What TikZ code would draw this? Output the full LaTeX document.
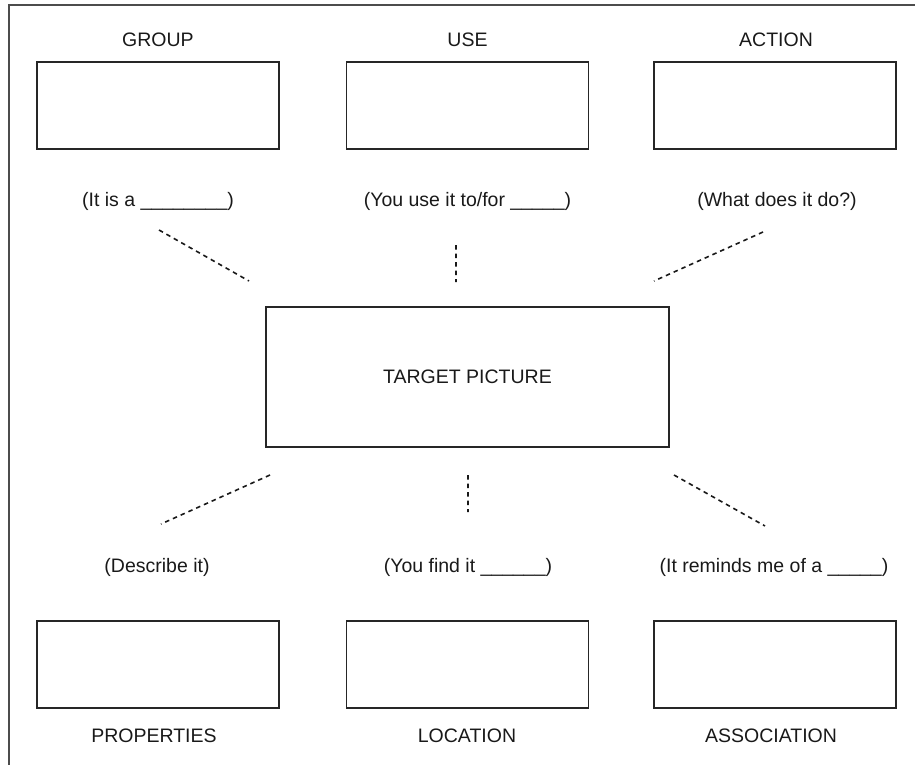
\documentclass[tikz,border=0pt]{standalone}
\usepackage{fontspec}
\setmainfont{Liberation Sans}
\usetikzlibrary{positioning}
\tikzstyle{card}=[draw=black!85,line width=1.3pt,minimum width=242pt,minimum height=87pt,inner sep=0pt]
\tikzstyle{head}=[anchor=base,inner sep=0pt,font=\fontsize{19.5}{23}\selectfont,text=black!90]
\tikzstyle{link}=[draw=black!90,line width=1.6pt,dash pattern=on 4.5pt off 4pt]

\begin{document}
\begin{tikzpicture}[x=1pt,y=-1pt]
	\useasboundingbox (0,0) rectangle (915,765);
	% frame
	\draw[black!70,line width=1.5pt] (9,765) -- (9,5) -- (915,5);

	% top row
	\node [card] (group)  at (158,105.5)   {};
	\node [card] (use)    at (467.5,105.5) {};
	\node [card] (action) at (775,105.5)   {};
	\node [head] (groupname)  at (158,47)   {GROUP};
	\node [head] (usename)    at (467.5,47) {USE};
	\node [head] (actionname) at (776,47)   {ACTION};
	\node [head] (groupq)  at (158,206)   {(It is a \_\_\_\_\_\_\_\_)};
	\node [head] (useq)    at (467.5,206) {(You use it to/for \_\_\_\_\_)};
	\node [head] (actionq) at (777,206)   {(What does it do?)};

	% centre
	\node [card,minimum width=403pt,minimum height=140pt,font=\fontsize{19.5}{23}\selectfont,text=black!90]
		(target) at (467.5,377) {TARGET PICTURE};

	% bottom row
	\node [card] (properties)  at (158,664.5)   {};
	\node [card] (location)    at (467.5,664.5) {};
	\node [card] (association) at (775,664.5)   {};
	\node [head] (propq)  at (157,572)   {(Describe it)};
	\node [head] (locq)   at (468,572)   {(You find it \_\_\_\_\_\_)};
	\node [head] (assocq) at (774,572)   {(It reminds me of a \_\_\_\_\_)};
	\node [head] (propname)  at (154,742)   {PROPERTIES};
	\node [head] (locname)   at (467,742)   {LOCATION};
	\node [head] (assocname) at (771,742)   {ASSOCIATION};

	% dashed links
	\coordinate (tl1) at (159,230);  \coordinate (tl2) at (249,281);
	\coordinate (tm1) at (456,245);  \coordinate (tm2) at (456,282);
	\coordinate (tr1) at (763,232);  \coordinate (tr2) at (654,281);
	\coordinate (bl1) at (270,475);  \coordinate (bl2) at (161,524);
	\coordinate (bm1) at (468,475);  \coordinate (bm2) at (468,512);
	\coordinate (br1) at (674,475);  \coordinate (br2) at (765,526);
	\path[link] (tl1) -- (tl2)  (tm1) -- (tm2)  (tr1) -- (tr2)
		(bl1) -- (bl2)  (bm1) -- (bm2)  (br1) -- (br2);
\end{tikzpicture}
\end{document}
